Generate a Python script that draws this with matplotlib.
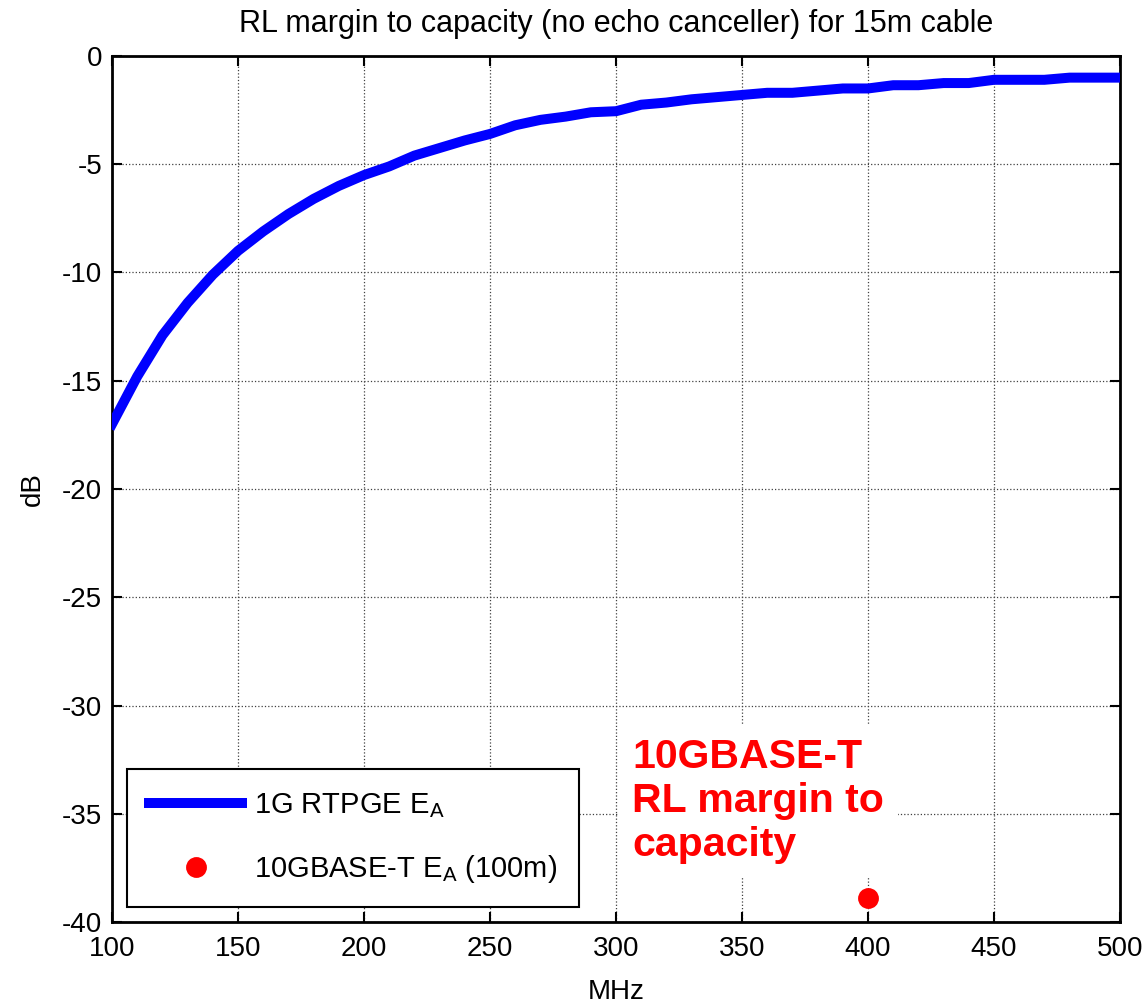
import matplotlib
matplotlib.use("Agg")
import matplotlib.pyplot as plt

plt.rcParams['font.family'] = ['Liberation Sans', 'DejaVu Sans']
plt.rcParams['mathtext.fontset'] = 'custom'
plt.rcParams['mathtext.rm'] = 'Liberation Sans'
plt.rcParams['mathtext.it'] = 'Liberation Sans'

freq_mhz = [100, 110, 120, 130, 140, 150, 160, 170, 180, 190, 200,
            210, 220, 230, 240, 250, 260, 270, 280, 290, 300,
            310, 320, 330, 340, 350, 360, 370, 380, 390, 400,
            410, 420, 430, 440, 450, 460, 470, 480, 490, 500]
rtpge_db = [-17.0, -14.8, -12.9, -11.4, -10.1, -9.0, -8.1, -7.3, -6.6, -6.0, -5.5,
            -5.1, -4.6, -4.25, -3.9, -3.6, -3.2, -2.95, -2.8, -2.6, -2.55,
            -2.25, -2.15, -2.0, -1.9, -1.8, -1.7, -1.7, -1.6, -1.5, -1.5,
            -1.35, -1.35, -1.25, -1.25, -1.1, -1.1, -1.1, -1.0, -1.0, -1.0]
tenG_freq = [400]
tenG_db = [-38.9]

xticks = [100, 150, 200, 250, 300, 350, 400, 450, 500]
yticks = [0, -5, -10, -15, -20, -25, -30, -35, -40]

annot_text = '10GBASE-T\nRL margin to\ncapacity'
annot_pos = (306.5, -31.5)

fig = plt.figure(figsize=(11.48, 10.07), dpi=100)
ax = fig.add_axes([0.0976, 0.0844, 0.8780, 0.8600])

ax.plot(freq_mhz, rtpge_db, color='#0000FF', linewidth=7.2,
        label=r'1G RTPGE E$_\mathregular{A}$', zorder=3)
ax.plot(tenG_freq, tenG_db, linestyle='none', marker='o', markersize=13,
        markeredgewidth=2, color='#FF0000',
        label=r'10GBASE-T E$_\mathregular{A}$ (100m)', zorder=4)

ax.set_xlim(100, 500)
ax.set_ylim(-40, 0)
ax.set_xticks(xticks)
ax.set_yticks(yticks)
ax.set_xticklabels([str(v) for v in xticks])
ax.set_yticklabels([str(v) for v in yticks])
ax.tick_params(direction='in', length=7, width=1.5, labelsize=20,
               top=True, right=True)
ax.tick_params(axis='x', pad=10)
ax.tick_params(axis='y', pad=7)
ax.grid(True, linestyle=':', color='0.25', linewidth=0.9)
for sp in ax.spines.values():
    sp.set_linewidth(2)

ax.set_title('RL margin to capacity (no echo canceller) for 15m cable',
             fontsize=22, pad=17)
ax.set_xlabel('MHz', fontsize=20, labelpad=12)
ax.set_ylabel('dB', fontsize=20, labelpad=12)

leg = ax.legend(loc='lower left', bbox_to_anchor=(0.015, 0.017),
                borderaxespad=0, fontsize=21, fancybox=False,
                framealpha=1, edgecolor='black', handlelength=3.2,
                labelspacing=1.15, borderpad=0.75, handletextpad=0.4)
leg.get_frame().set_linewidth(1.5)

ax.text(annot_pos[0], annot_pos[1], annot_text,
        fontsize=29.5, fontweight='bold', color='#FF0000',
        va='top', ha='left', linespacing=1.2, zorder=5,
        bbox=dict(facecolor='white', edgecolor='none', pad=10))

fig.savefig('out.png', dpi=100)
